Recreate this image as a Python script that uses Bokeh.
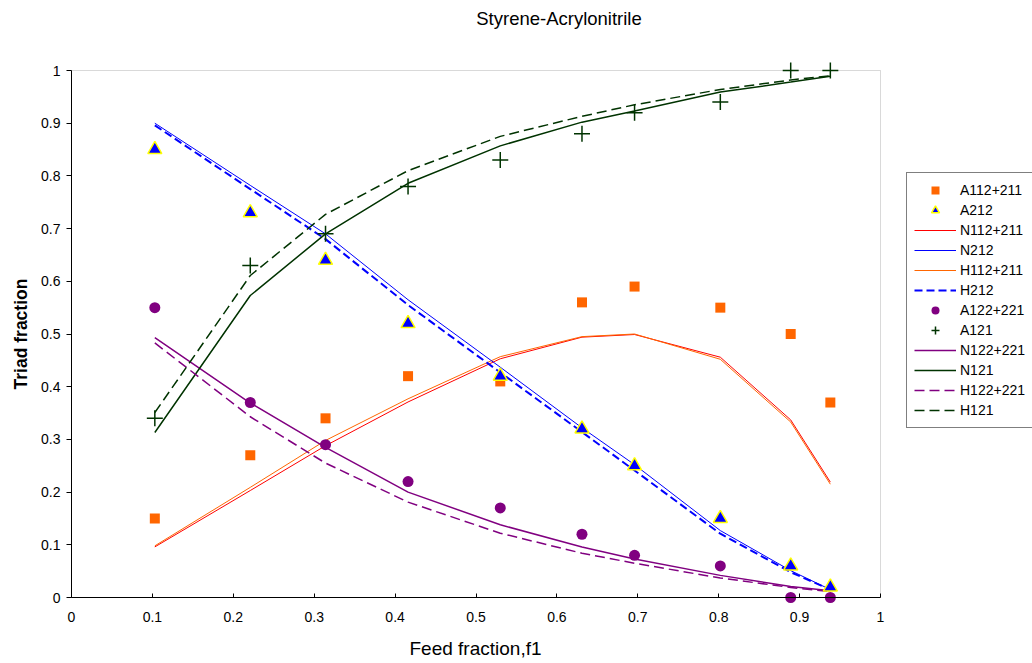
import math
from bokeh.plotting import figure
from bokeh.models import Range1d, FixedTicker, Legend, LegendItem, Label, BoxAnnotation
from bokeh.embed import file_html
from bokeh.resources import INLINE

# ---- data ----
f1 = [0.103, 0.221, 0.314, 0.416, 0.530, 0.631, 0.696, 0.802, 0.889, 0.938]

A112_211 = [0.15, 0.27, 0.34, 0.42, 0.41, 0.56, 0.59, 0.55, 0.50, 0.37]
A212 = [0.85, 0.73, 0.64, 0.52, 0.42, 0.32, 0.25, 0.15, 0.06, 0.02]
A122_221 = [0.55, 0.37, 0.29, 0.22, 0.17, 0.12, 0.08, 0.06, 0.00, 0.00]
A121 = [0.34, 0.63, 0.69, 0.78, 0.83, 0.88, 0.92, 0.94, 1.00, 1.00]

N112_211 = [0.096, 0.203, 0.288, 0.371, 0.453, 0.494, 0.499, 0.456, 0.337, 0.219]
H112_211 = [0.098, 0.209, 0.298, 0.377, 0.457, 0.495, 0.500, 0.452, 0.333, 0.215]
N212 = [0.900, 0.782, 0.690, 0.565, 0.437, 0.322, 0.252, 0.127, 0.051, 0.015]
H212 = [0.896, 0.775, 0.680, 0.555, 0.427, 0.314, 0.241, 0.121, 0.048, 0.015]
N122_221 = [0.493, 0.369, 0.285, 0.200, 0.138, 0.096, 0.073, 0.042, 0.021, 0.013]
H122_221 = [0.483, 0.343, 0.255, 0.181, 0.122, 0.084, 0.065, 0.037, 0.019, 0.011]
N121 = [0.313, 0.573, 0.690, 0.786, 0.857, 0.902, 0.923, 0.959, 0.978, 0.989]
H121 = [0.351, 0.611, 0.727, 0.810, 0.875, 0.913, 0.935, 0.964, 0.982, 0.990]

tick_values = [0, 0.1, 0.2, 0.3, 0.4, 0.5, 0.6, 0.7, 0.8, 0.9, 1]
tick_labels = ["0", "0.1", "0.2", "0.3", "0.4", "0.5", "0.6", "0.7", "0.8", "0.9", "1"]

FONT = "Liberation Sans"
ORANGE = "#FF6600"
PURPLE = "#800080"
GREEN = "#003300"
BLUE = "#0000FF"

# ---- layout geometry (pixels) ----
W, H = 1032, 663
PX_LEFT, PX_RIGHT = 71, 880      # x = 0 and x = 1
PX_TOP, PX_BOTTOM = 70, 597      # y = 1 and y = 0 (from top)
sx = PX_RIGHT - PX_LEFT
sy = PX_BOTTOM - PX_TOP
x_start = -PX_LEFT / sx
x_end = x_start + W / sx
y_start = -(H - PX_BOTTOM) / sy
y_end = y_start + H / sy


def dx(px):  # screen x -> data x
    return (px - PX_LEFT) / sx


def dy(py):  # screen y (from top) -> data y
    return (PX_BOTTOM - py) / sy


p = figure(width=W, height=H, output_backend="svg", toolbar_location=None,
           x_range=Range1d(x_start, x_end), y_range=Range1d(y_start, y_end),
           min_border=0, min_border_left=0, min_border_right=0,
           min_border_top=0, min_border_bottom=0,
           background_fill_color="white", border_fill_color="white")
p.grid.visible = False
p.outline_line_color = None

# plot-area border (gray), under the black axes
p.add_layout(BoxAnnotation(left=0, right=1, bottom=0, top=1, fill_alpha=0,
                           line_color="#808080", line_width=1, level="underlay"))

for ax in (p.xaxis[0], p.yaxis[0]):
    ax.fixed_location = 0
    ax.ticker = FixedTicker(ticks=tick_values)
    ax.bounds = (0, 1)
    ax.major_label_overrides = {v: s for v, s in zip(tick_values, tick_labels)}
    ax.major_label_text_font = FONT
    ax.major_label_text_font_size = "14px"
    ax.major_label_text_color = "black"
    ax.axis_line_color = "black"
    ax.axis_line_width = 1
    ax.major_tick_line_color = "black"
    ax.minor_tick_line_color = None

p.xaxis.major_tick_in = 4
p.xaxis.major_tick_out = 0
p.xaxis.major_label_standoff = 14

p.yaxis.major_tick_in = 0
p.yaxis.major_tick_out = 5
p.yaxis.major_label_standoff = 6

# ---- texts ----
p.add_layout(Label(x=dx(558.5), y=dy(18), text="Styrene-Acrylonitrile",
                   text_align="center", text_baseline="middle",
                   text_font=FONT, text_font_size="18.5px", text_color="black"))
p.add_layout(Label(x=dx(475), y=dy(648), text="Feed fraction,f1",
                   text_align="center", text_baseline="middle",
                   text_font=FONT, text_font_size="19px", text_color="black"))
p.add_layout(Label(x=dx(20), y=dy(333.5), text="Triad fraction", angle=math.pi / 2,
                   text_align="center", text_baseline="middle",
                   text_font=FONT, text_font_size="17.5px", text_font_style="bold",
                   text_color="black"))

# ---- lines ----
rN112 = p.line(f1, N112_211, line_color="#FF0000", line_width=1)
rH112 = p.line(f1, H112_211, line_color=ORANGE, line_width=1)
rN212 = p.line(f1, N212, line_color=BLUE, line_width=1)
rH212 = p.line(f1, H212, line_color=BLUE, line_width=2, line_dash="8 4")
rN122 = p.line(f1, N122_221, line_color=PURPLE, line_width=1.5)
rN121 = p.line(f1, N121, line_color=GREEN, line_width=1.5)
rH122 = p.line(f1, H122_221, line_color=PURPLE, line_width=1.5, line_dash="10 5")
rH121 = p.line(f1, H121, line_color=GREEN, line_width=1.5, line_dash="10 5")

# ---- markers ----
rA112 = p.scatter(f1, A112_211, marker="square", size=10, fill_color=ORANGE, line_color=None)
rA212 = p.scatter(f1, A212, marker="triangle", size=14, fill_color=BLUE,
                  line_color="#FFFF00", line_width=1.5)
rA122 = p.scatter(f1, A122_221, marker="circle", size=11, fill_color=PURPLE, line_color=None)
rA121 = p.scatter(f1, A121, marker="cross", size=16, line_color=GREEN, line_width=1.5)

items = [
    ("A112+211", rA112), ("A212", rA212), ("N112+211", rN112), ("N212", rN212),
    ("H112+211", rH112), ("H212", rH212), ("A122+221", rA122), ("A121", rA121),
    ("N122+221", rN122), ("N121", rN121), ("H122+221", rH122), ("H121", rH121),
]
legend = Legend(items=[LegendItem(label=l, renderers=[r]) for l, r in items],
                location=(906, H - 428), orientation="vertical",
                glyph_width=42, glyph_height=20, label_height=20, spacing=0,
                label_standoff=4, padding=7, margin=0,
                label_text_font=FONT, label_text_font_size="14px", label_text_color="black",
                border_line_color="black", border_line_width=1,
                background_fill_color="white", background_fill_alpha=1.0)
p.add_layout(legend, "center")

open("out.html", "w").write(file_html(p, INLINE))
